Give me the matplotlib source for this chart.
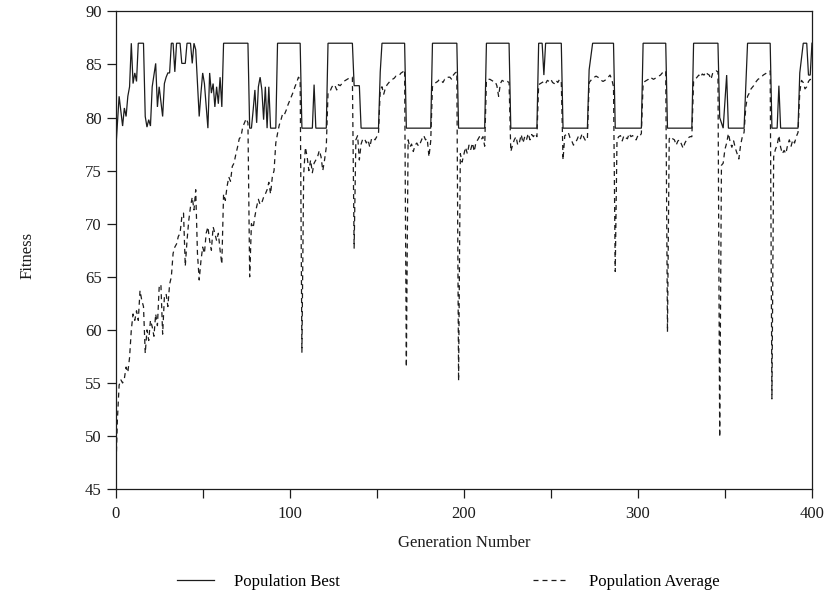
import numpy as np
import matplotlib
matplotlib.use("Agg")
import matplotlib.pyplot as plt
from matplotlib.lines import Line2D

plt.rcParams["font.family"] = ["Liberation Serif", "DejaVu Serif"]

# ---- population average fitness, one value per generation (0..400) ----
avg_g0_76 = [
    46.0, 51.5, 54.8, 55.3, 55.0, 55.4, 56.5, 56.0, 57.4, 60.0,
    61.5, 60.9, 61.8, 60.9, 63.7, 62.8, 62.2, 57.8, 60.0, 59.0,
    60.9, 60.3, 59.4, 61.5, 60.4, 64.0, 64.3, 59.6, 63.1, 63.4,
    62.2, 64.3, 65.0, 67.2, 67.8, 68.1, 68.8, 69.1, 70.6, 71.0,
    66.0, 68.4, 70.3, 71.6, 72.5, 71.3, 73.2, 67.2, 64.7, 66.5,
    67.8, 67.2, 69.1, 69.7, 68.4, 67.5, 69.7, 69.1, 68.4, 69.1,
    67.5, 66.2, 72.8, 72.2, 73.5, 74.4, 74.0, 75.4, 75.7, 76.5,
    77.2, 78.0, 78.2, 79.1, 79.5, 79.9, 79.5,
]
avg_g77_106 = [
    65.0, 70.0, 69.6, 70.7, 71.6, 72.3, 71.8, 72.0, 72.5, 72.8,
    73.2, 73.9, 72.8, 74.4, 75.0, 77.6, 78.5, 79.3, 79.8, 80.4,
    80.3, 80.7, 81.2, 81.6, 82.0, 82.4, 82.9, 83.3, 83.8, 83.6,
]
avg_g107_136 = [
    57.9, 74.6, 77.2, 76.3, 75.0, 76.0, 74.8, 75.7, 76.0, 76.3,
    76.9, 76.3, 75.0, 76.0, 77.2, 82.3, 82.4, 82.8, 83.1, 83.0,
    82.6, 83.1, 83.0, 83.2, 83.4, 83.5, 83.6, 83.7, 83.8, 83.8,
]
avg_g137_166 = [
    67.7, 77.9, 78.3, 76.0, 77.5, 78.0, 78.0, 77.6, 77.9, 77.2,
    78.0, 78.1, 77.9, 78.2, 78.5, 82.6, 82.9, 82.2, 82.8, 83.1,
    83.3, 83.5, 83.6, 83.7, 83.9, 83.9, 84.0, 84.2, 84.3, 84.5,
]
avg_g167_196 = [
    56.5, 77.9, 77.2, 77.5, 76.8, 77.4, 77.6, 77.3, 77.6, 78.0,
    78.3, 77.9, 78.0, 76.3, 77.8, 82.9, 83.1, 83.3, 83.4, 83.6,
    83.5, 83.3, 83.6, 83.6, 83.8, 83.8, 83.6, 84.0, 84.2, 84.3,
]
avg_g197_226 = [
    55.2, 76.6, 75.8, 76.5, 77.2, 76.6, 77.4, 77.0, 77.6, 76.8,
    77.7, 77.9, 78.2, 77.9, 78.2, 77.3, 83.5, 83.6, 83.6, 83.5,
    83.4, 83.4, 83.0, 82.0, 83.2, 83.5, 83.4, 83.3, 83.4, 83.3,
]
avg_g227_256 = [
    76.8, 77.4, 77.9, 78.2, 77.4, 77.7, 78.4, 77.6, 78.2, 77.9,
    78.5, 77.9, 78.4, 78.2, 78.5, 78.2, 83.1, 83.2, 83.3, 83.4,
    83.2, 83.5, 83.4, 83.6, 83.3, 83.2, 83.5, 83.3, 83.6, 83.4,
]
avg_g257_286 = [
    76.0, 78.3, 78.4, 78.6, 78.1, 77.8, 77.4, 77.6, 77.9, 78.3,
    78.0, 78.5, 78.1, 77.8, 78.0, 83.3, 83.5, 83.7, 83.8, 83.9,
    83.8, 83.7, 83.5, 83.4, 83.5, 83.6, 83.8, 84.0, 83.6, 82.9,
]
avg_g287_316 = [
    65.5, 77.9, 78.2, 78.3, 77.8, 78.3, 78.1, 78.0, 78.5, 78.2,
    78.3, 78.0, 77.9, 78.3, 78.2, 78.5, 83.2, 83.4, 83.5, 83.6,
    83.8, 83.7, 83.6, 83.7, 83.8, 83.9, 84.0, 84.2, 84.3, 84.4,
]
avg_g317_346 = [
    59.8, 78.0, 78.2, 78.0, 77.9, 77.4, 77.8, 77.9, 77.5, 77.1,
    77.6, 77.9, 78.1, 78.2, 78.2, 83.4, 83.6, 83.8, 84.0, 83.8,
    84.1, 84.0, 84.3, 84.1, 84.0, 83.6, 84.2, 84.3, 84.4, 84.3,
]
avg_g347_376 = [
    49.9, 75.5, 75.7, 77.0, 77.6, 78.5, 77.7, 77.2, 77.8, 77.1,
    76.6, 76.1, 77.4, 78.2, 78.6, 81.0, 82.0, 82.3, 82.7, 82.9,
    83.1, 83.4, 83.6, 83.7, 83.8, 84.0, 84.1, 84.2, 84.3, 84.4,
]
avg_g377_400 = [
    53.5, 76.3, 77.0, 77.4, 78.3, 77.2, 76.6, 76.9, 76.6, 77.4,
    77.9, 77.3, 77.9, 77.6, 78.2, 78.6, 82.4, 83.5, 83.3, 82.7,
    82.9, 83.4, 83.6, 83.4,
]

avg_fitness = (avg_g0_76 + avg_g77_106 + avg_g107_136 + avg_g137_166
               + avg_g167_196 + avg_g197_226 + avg_g227_256 + avg_g257_286
               + avg_g287_316 + avg_g317_346 + avg_g347_376 + avg_g377_400)
avg_generation = np.arange(len(avg_fitness))

# ---- population best fitness, given at the generations where it changes ----
best_generation = [
    0, 2, 4, 5, 6, 7, 8, 9, 10, 11, 12, 13, 16, 17, 18, 19, 20, 21, 23, 24,
    25, 27, 28, 29, 30, 31, 32, 33, 34, 35, 37, 38, 40, 41, 43, 44, 45, 46, 48, 49,
    50, 51, 53, 54, 55, 56, 57, 58, 59, 60, 61, 62, 76, 77, 78, 79, 80, 81, 82, 83,
    84, 85, 86, 87, 88, 89, 92, 93, 106, 107, 113, 114, 115, 121, 122, 136, 137, 140, 141, 151,
    152, 153, 166, 167, 181, 182, 196, 197, 212, 213, 226, 227, 242, 243, 245, 246, 247, 256, 257, 271,
    272, 274, 286, 287, 302, 303, 316, 317, 331, 332, 346, 347, 349, 351, 352, 361, 363, 376, 377, 380,
    381, 382, 392, 393, 395, 397, 398, 399, 400,
]
best_fitness = [
    76.8, 82.0, 79.2, 80.9, 80.1, 82.0, 82.9, 87.0, 83.2, 84.2, 83.4, 87.0, 87.0, 80.1, 79.1, 79.8, 79.2, 82.9, 85.1, 81.0,
    82.9, 80.1, 83.2, 83.8, 84.2, 84.2, 87.0, 87.0, 84.3, 87.0, 87.0, 85.1, 85.1, 87.0, 87.0, 85.1, 87.0, 86.4, 80.1, 82.3,
    84.2, 83.2, 79.0, 84.2, 82.3, 83.2, 81.0, 82.9, 81.3, 83.8, 81.0, 87.0, 87.0, 79.0, 79.0, 80.7, 82.6, 79.5, 82.9, 83.8,
    82.6, 79.8, 82.9, 79.0, 82.9, 79.0, 79.0, 87.0, 87.0, 79.0, 79.0, 83.1, 79.0, 79.0, 87.0, 87.0, 83.0, 83.0, 79.0, 79.0,
    84.3, 87.0, 87.0, 79.0, 79.0, 87.0, 87.0, 79.0, 79.0, 87.0, 87.0, 79.0, 79.0, 87.0, 87.0, 84.0, 87.0, 87.0, 79.0, 79.0,
    84.5, 87.0, 87.0, 79.0, 79.0, 87.0, 87.0, 79.0, 79.0, 87.0, 87.0, 80.0, 79.0, 84.0, 79.0, 79.0, 87.0, 87.0, 79.0, 79.0,
    83.0, 79.0, 79.0, 84.2, 87.0, 87.0, 84.0, 84.0, 87.0,
]

x_ticks = [0, 100, 200, 300, 400]
y_ticks = [45, 50, 55, 60, 65, 70, 75, 80, 85, 90]

ink = "#1c1c1c"

fig = plt.figure(figsize=(8.26, 5.98), dpi=100)
ax = fig.add_axes([0.140, 0.182, 0.843, 0.799])

ax.plot(best_generation, best_fitness, color=ink, lw=0.9, solid_joinstyle="miter")
ax.plot(avg_generation, avg_fitness, color=ink, lw=0.9, dashes=(4.0, 3.2))

ax.set_xlim(0, 400)
ax.set_ylim(45, 90)
ax.set_xticks(x_ticks)
ax.set_xticks([50, 150, 250, 350], minor=True)
ax.set_yticks(y_ticks)

for side in ("top", "right", "bottom", "left"):
    ax.spines[side].set_color(ink)
    ax.spines[side].set_linewidth(0.9)

ax.tick_params(axis="both", which="both", direction="out", colors=ink,
               width=0.9, length=6.5, labelsize=12)
ax.tick_params(axis="x", which="major", pad=5.5)
ax.tick_params(axis="y", which="major", pad=3.5)
ax.tick_params(top=False, right=False)

ax.set_xlabel("Generation Number", fontsize=12, color=ink)
ax.set_ylabel("Fitness", fontsize=12, color=ink)
ax.xaxis.label.set_va("center")
ax.yaxis.label.set_va("center")
ax.xaxis.set_label_coords(0.5, -0.113)
ax.yaxis.set_label_coords(-0.127, 0.49)

handles = [
    Line2D([], [], color=ink, lw=0.9),
    Line2D([], [], color=ink, lw=0.9, dashes=(4.0, 3.2)),
]
fig.legend(handles, ["Population Best", "Population Average"],
           loc="center", bbox_to_anchor=(0.543, 0.027), ncol=2,
           frameon=False, fontsize=12, handlelength=2.2,
           handletextpad=1.2, columnspacing=11.6)

fig.savefig("out.png", dpi=100)
